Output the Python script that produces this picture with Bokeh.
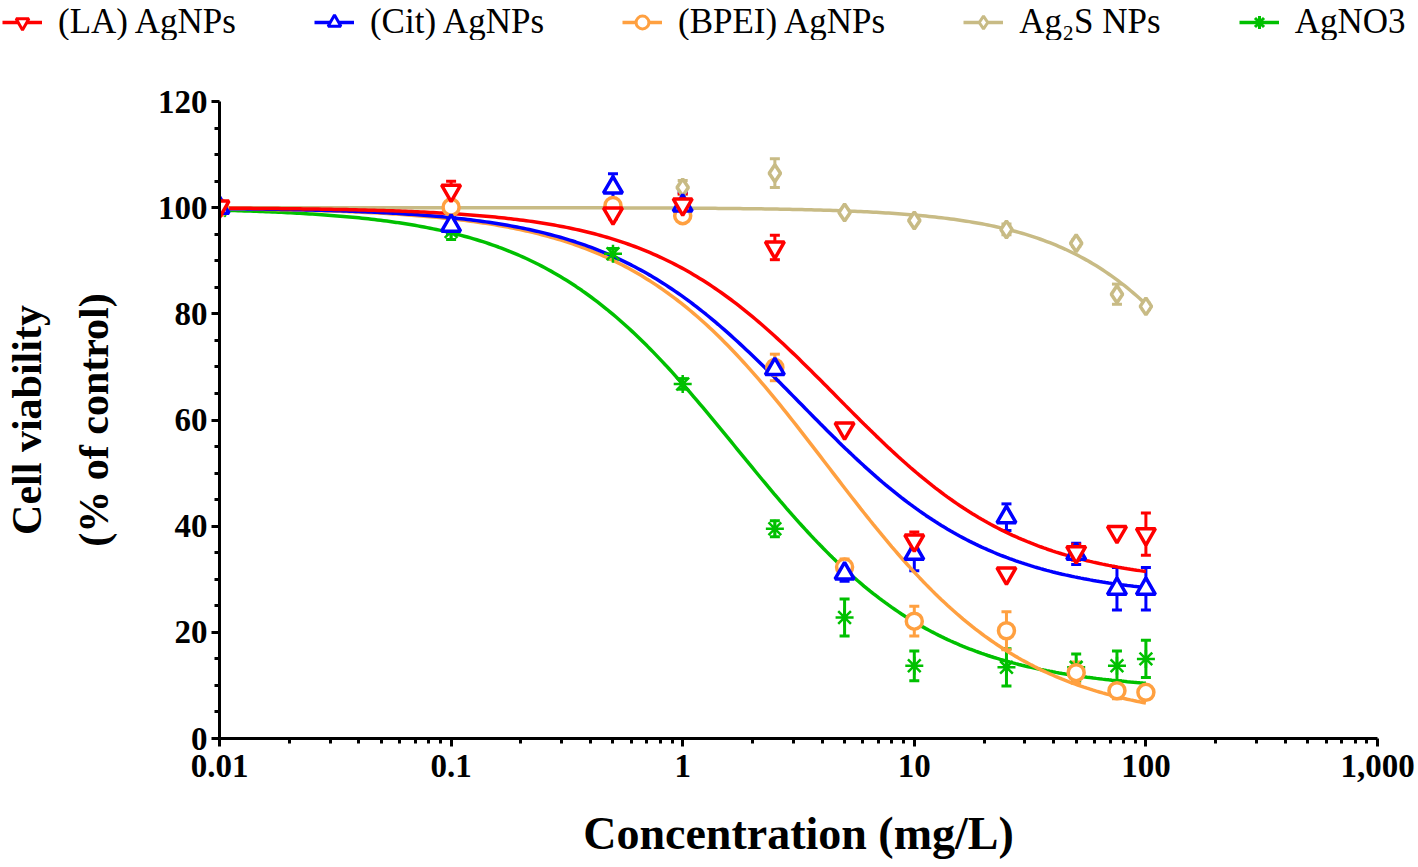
import numpy as np
from bokeh.plotting import figure
from bokeh.models import (ColumnDataSource, FixedTicker, NumeralTickFormatter, Whisker,
                          TeeHead, Legend, LegendItem, Range1d)
from bokeh.embed import file_html
from bokeh.resources import INLINE

# ---------------- data ----------------
conc = [0.01, 0.1, 0.5, 1, 2.5, 5, 10, 25, 50, 75, 100]

series_names = ["(LA) AgNPs", "(Cit) AgNPs", "(BPEI) AgNPs", "Ag\u2082S NPs", "AgNO3"]

la_mean = [100.2, 103.2, 98.9, 100.6, 92.5, 58.4, 37.3, 31.1, 35.1, 38.9, 38.5]
la_err = [0.8, 1.8, 1.0, 2.0, 2.3, 0.6, 1.6, 0.6, 1.5, 0.5, 4.0]

cit_mean = [100.0, 96.6, 103.8, 100.4, 69.6, 31.1, 34.8, 41.7, 34.8, 28.2, 28.2]
cit_err = [1.0, 1.5, 2.6, 2.5, 1.0, 1.5, 3.2, 2.5, 2.0, 4.0, 4.0]

bpei_mean = [100.0, 100.1, 100.4, 98.5, 69.9, 32.3, 22.1, 20.3, 12.4, 9.0, 8.7]
bpei_err = [0.5, 0.5, 0.5, 0.6, 2.5, 1.5, 2.8, 3.6, 2.0, 1.5, 1.0]

ag2s_mean = [100.0, 100.0, 100.0, 103.8, 106.5, 99.1, 97.6, 95.9, 93.3, 83.7, 81.4]
ag2s_err = [0.5, 0.5, 0.5, 1.3, 2.7, 0.5, 0.5, 1.0, 0.6, 1.9, 0.6]

agno3_mean = [99.5, 95.5, 91.3, 66.8, 39.5, 22.8, 13.7, 13.4, 13.4, 13.7, 15.0]
agno3_err = [0.5, 1.5, 1.0, 1.0, 1.5, 3.5, 2.8, 3.5, 2.5, 2.8, 3.5]

# four-parameter logistic fit parameters (estimated from the drawn curves)
fit_top = [100, 100, 100, 100, 100]
fit_bottom = [29.0, 26.5, 3.0, 0.0, 9.0]
fit_ec50 = [4.6, 3.2, 4.2, 350.0, 1.72]
fit_hill = [1.08, 1.05, 1.02, 1.2, 1.02]

y_ticks = [0, 20, 40, 60, 80, 100, 120]
x_ticks = [0.01, 0.1, 1, 10, 100, 1000]

# ---------------- styling ----------------
colors = ["#FF0000", "#0000FF", "#FFA040", "#C8BB85", "#00C000"]
markers = ["inverted_triangle", "triangle", "circle", "diamond", "asterisk"]
marker_sizes = [19, 19, 16, 17, 18]
marker_lw = [3.5, 3.5, 3.5, 3.5, 2.5]
means = [la_mean, cit_mean, bpei_mean, ag2s_mean, agno3_mean]
errs = [la_err, cit_err, bpei_err, ag2s_err, agno3_err]
draw_order = [3, 4, 2, 1, 0]

SERIF = "Liberation Serif"
LEG_H = 40

p = figure(width=1418, height=867 - LEG_H, x_axis_type="log",
           x_range=Range1d(0.01, 1000), y_range=Range1d(0, 120),
           output_backend="svg", toolbar_location=None,
           min_border_left=219, min_border_right=41,
           min_border_top=101 - LEG_H, min_border_bottom=129)
p.outline_line_color = None
p.xgrid.visible = False
p.ygrid.visible = False
p.background_fill_color = "white"
p.border_fill_color = "white"

curve_x = np.logspace(-2, 2, 300)
for i in draw_order:
    top, bot, ec, h = fit_top[i], fit_bottom[i], fit_ec50[i], fit_hill[i]
    cy = bot + (top - bot) / (1.0 + (curve_x / ec) ** h)
    p.line(curve_x, cy, line_color=colors[i], line_width=3.5)

for i in draw_order:
    m = np.array(means[i]); e = np.array(errs[i])
    src = ColumnDataSource(dict(x=conc, y=means[i], lo=list(m - e), hi=list(m + e)))
    w = Whisker(source=src, base="x", upper="hi", lower="lo", dimension="height",
                line_color=colors[i], line_width=3,
                upper_head=TeeHead(size=10, line_color=colors[i], line_width=3),
                lower_head=TeeHead(size=10, line_color=colors[i], line_width=3))
    p.add_layout(w)
    p.scatter("x", "y", source=src, marker=markers[i], size=marker_sizes[i],
              line_color=colors[i], line_width=marker_lw[i],
              fill_color=("white" if markers[i] != "asterisk" else colors[i]))

# ---------------- axes ----------------
p.yaxis.ticker = FixedTicker(ticks=y_ticks, minor_ticks=[v for v in range(0, 121, 5) if v % 20])
p.xaxis.ticker = FixedTicker(ticks=x_ticks,
                             minor_ticks=[k * 10.0 ** d for d in range(-2, 3) for k in range(2, 10)])
p.xaxis.formatter = NumeralTickFormatter(format="0,0.[00]")

for ax in (p.xaxis, p.yaxis):
    ax.axis_line_width = 3
    ax.axis_line_color = "black"
    ax.major_tick_line_width = 3
    ax.minor_tick_line_width = 3
    ax.major_tick_out = 8
    ax.major_tick_in = 0
    ax.minor_tick_out = 5
    ax.minor_tick_in = 0
    ax.major_label_text_font = SERIF
    ax.major_label_text_font_style = "bold"
    ax.major_label_text_font_size = "33px"
    ax.major_label_text_color = "black"
    ax.axis_label_text_font = SERIF
    ax.axis_label_text_font_style = "bold"
    ax.axis_label_text_color = "black"

p.yaxis.major_label_standoff = 4
p.xaxis.major_label_standoff = 8
p.xaxis.axis_label = "Concentration (mg/L)"
p.xaxis.axis_label_text_font_size = "46px"
p.xaxis.axis_label_standoff = 28
p.yaxis.axis_label = "Cell viability\n(% of control)"
p.yaxis.axis_label_text_font_size = "42px"
p.yaxis.axis_label_text_line_height = 1.45
p.yaxis.axis_label_standoff = 38

# ---------------- legend strip (own small figure above the chart) ----------------
lf = figure(width=1418, height=LEG_H, x_range=Range1d(0, 1), y_range=Range1d(0, 1),
            output_backend="svg", toolbar_location=None,
            x_axis_location=None, y_axis_location=None,
            min_border_left=0, min_border_right=0, min_border_top=0, min_border_bottom=0)
lf.outline_line_color = None
lf.xgrid.visible = False
lf.ygrid.visible = False

items = []
for i in range(5):
    hidden = ColumnDataSource(dict(x=[-5.0, -4.0], y=[-5.0, -5.0]))  # outside the strip's ranges
    lr = lf.line("x", "y", source=hidden, line_color=colors[i], line_width=3.5)
    sr = lf.scatter("x", "y", source=hidden, marker=markers[i], size=marker_sizes[i],
                    line_color=colors[i], line_width=3,
                    fill_color=("white" if markers[i] != "asterisk" else colors[i]))
    items.append(LegendItem(label=series_names[i], renderers=[lr, sr]))

legend = Legend(items=items, orientation="horizontal", location="top_left",
                label_text_font=SERIF, label_text_font_size="35px", label_text_color="black",
                glyph_width=40, glyph_height=32, label_standoff=16, spacing=78,
                padding=0, margin=2, border_line_color=None, background_fill_alpha=0)
lf.add_layout(legend)

# two separate roots (no frame alignment between them), stacked vertically
open("out.html", "w").write(file_html([lf, p], INLINE))
